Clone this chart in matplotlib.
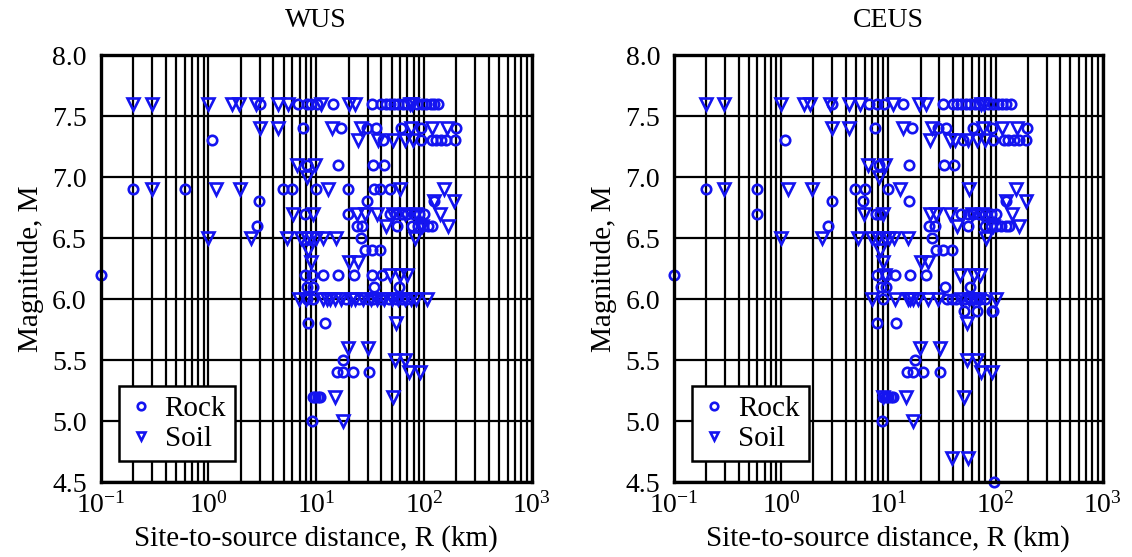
import matplotlib
matplotlib.use("Agg")
import matplotlib.pyplot as plt
from matplotlib.ticker import LogLocator, FixedLocator, FuncFormatter
import numpy as np

plt.rcParams['font.family'] = ['Liberation Serif', 'DejaVu Serif']

# distances (km) grouped by magnitude
wus_rock = {
    7.6: [3.0, 6.8, 8.2, 9.0, 10.2, 14.2, 32.7, 40, 44, 48, 53, 58, 64, 70, 86, 95, 105, 115, 125, 135],
    7.4: [7.6, 17.0, 29.9, 35.9, 60.8, 93.3, 198],
    7.3: [1.08, 42, 93, 120, 130, 145, 160, 194],
    7.1: [8.2, 15.8, 33.9, 42.8],
    6.9: [0.2, 0.6, 4.9, 6.0, 10.0, 19.9, 34.4, 39, 48.4],
    6.8: [2.95, 29.5, 124],
    6.7: [7.9, 19.9, 48, 55, 62, 70, 80, 90, 100],
    6.6: [2.8, 23.8, 26.4, 56.6, 78, 88, 98, 108, 120],
    6.5: [25.9],
    6.4: [28.4, 32.7, 39.1],
    6.2: [0.1, 7.8, 9.1, 11.6, 15.8, 22.4, 32.7, 40.5],
    6.1: [8.2, 9.4, 34.4, 58.6],
    6.0: [8.2, 9.4, 19, 25, 30, 34, 40, 47, 55, 62, 70],
    5.8: [8.3, 12],
    5.5: [17.9],
    5.4: [15.5, 17.6, 22.1, 30.9],
    5.2: [9.3, 9.8, 10.3, 10.8],
    5.0: [9.1],
}
wus_soil = {
    7.6: [0.2, 0.3, 1.0, 1.64, 1.9, 2.75, 4.4, 5.5, 11, 20.3, 22.9, 74, 78],
    7.4: [3.0, 4.4, 13.9, 25.9, 75.3, 118, 163],
    7.3: [24.6, 37.7, 52, 66.7, 79.4],
    7.1: [6.6, 9.8],
    7.0: [8.2],
    6.9: [0.3, 1.17, 1.96, 12.9, 60, 153],
    6.8: [124, 191],
    6.7: [6.05, 9.3, 23.8, 28.4, 36.4, 52, 66, 85, 141],
    6.6: [44.5, 95, 168],
    6.5: [1.0, 2.47, 5.3, 7.3, 8.2, 9.0, 10, 11.5, 15.3, 82.6],
    6.4: [8.3],
    6.3: [8.9, 20.3, 24.6],
    6.2: [48.4, 60, 69.2],
    6.0: [6.9, 8.0, 11.5, 12.5, 13.5, 15, 17, 21, 23, 27, 32, 37, 43, 50, 58, 66, 75, 85, 107],
    5.8: [55],
    5.6: [19.9, 30],
    5.5: [53.8, 66.7],
    5.4: [73.1, 91.8],
    5.2: [14.9, 51.3],
    5.0: [17.6],
}
ceus_rock = {
    7.6: [2.96, 6.6, 7.8, 9.1, 13.8, 32.1, 40, 44, 48, 53, 58, 64, 70, 86, 95, 105, 115, 125, 138],
    7.4: [7.5, 16.5, 29.2, 34.4, 61, 92, 195],
    7.3: [1.08, 50, 95.5, 120, 132, 148, 165, 192],
    7.1: [8.2, 15.6, 33, 41],
    6.9: [0.2, 0.59, 4.88, 6.05, 9.9],
    6.8: [2.96, 5.83, 15.6, 125],
    6.7: [0.59, 7.66, 8.35, 48, 55, 62, 70, 80, 90, 100],
    6.6: [2.72, 24, 27.3, 55.6, 80, 90, 100, 112, 125, 135],
    6.5: [25.3],
    6.4: [27.7, 32.6, 39.6],
    6.2: [0.1, 7.78, 9.5, 11.5, 15.9, 22.4],
    6.1: [8.6, 9.6, 33.6, 58.4],
    6.0: [8.85, 35, 39, 43, 52, 58, 65, 72, 80],
    5.9: [50.7, 67.4, 91.8, 95],
    5.8: [7.9, 11.9],
    5.5: [17.7],
    5.4: [14.8, 17.1, 21.2, 30.3],
    5.2: [9.0, 9.5, 10, 10.5, 11],
    5.0: [8.8],
    4.5: [96.6],
}
ceus_soil = {
    7.6: [0.198, 0.294, 0.99, 1.63, 1.86, 2.85, 4.29, 5.43, 11, 19.4, 22.4, 74, 78],
    7.4: [2.96, 4.29, 13.8, 25.3, 75.8, 116, 159],
    7.3: [24.4, 37.6, 41.7, 55.6, 66.7, 79.5],
    7.1: [6.5, 9.3],
    7.0: [8.2],
    6.9: [0.294, 1.16, 1.95, 12.8, 56.9, 155],
    6.8: [125, 192],
    6.7: [5.9, 9.0, 24.4, 28, 37.3, 60, 75, 141],
    6.6: [43.4, 95, 166],
    6.5: [0.99, 2.42, 5.17, 7.08, 8.05, 9.3, 10.2, 11.2, 15.4, 81],
    6.4: [8.4],
    6.3: [8.85, 20.3, 23.6],
    6.2: [9.3, 46.5, 62.5, 71.6],
    6.0: [6.98, 11.5, 15.2, 16, 17.1, 19, 23.6, 29.2, 48, 56, 62, 70, 102],
    5.8: [54.5],
    5.6: [19.7, 30.3],
    5.5: [53.7, 66.7],
    5.4: [74, 92],
    5.2: [9.0, 14.6, 50.7],
    5.0: [17.1],
    4.7: [39, 55],
}

panels = [("WUS", wus_rock, wus_soil), ("CEUS", ceus_rock, ceus_soil)]
positions = [[0.0890, 0.1346, 0.3807, 0.7666], [0.5954, 0.1346, 0.3787, 0.7666]]
blue = "#1414f0"


def flatten(d):
    r, m = [], []
    for mag, dists in d.items():
        r += dists
        m += [mag] * len(dists)
    return np.array(r), np.array(m)


def sci(x, pos):
    return r"$\mathregular{10^{%d}}$" % int(round(np.log10(x)))


fig = plt.figure(figsize=(11.32, 5.57), dpi=100)

for (title, rock, soil), pos in zip(panels, positions):
    ax = fig.add_axes(pos)
    ax.set_xscale("log")
    ax.set_xlim(0.1, 1000)
    ax.set_ylim(4.5, 8.0)

    # full log grid, every minor decade line drawn as heavy as the majors
    ax.xaxis.set_major_locator(LogLocator(base=10, numticks=10))
    ax.xaxis.set_minor_locator(LogLocator(base=10, subs=np.arange(2, 10), numticks=20))
    ax.xaxis.set_major_formatter(FuncFormatter(sci))
    ax.yaxis.set_major_locator(FixedLocator(np.arange(4.5, 8.01, 0.5)))
    ax.yaxis.set_major_formatter(FuncFormatter(lambda v, p: "%.1f" % v))
    ax.grid(True, which="both", axis="x", color="black", lw=1.6)
    ax.grid(True, which="major", axis="y", color="black", lw=1.6)
    ax.tick_params(which="both", length=0, labelsize=20)
    ax.tick_params(axis="y", pad=10)
    ax.tick_params(axis="x", pad=7)
    for s in ax.spines.values():
        s.set_linewidth(2.4)
    ax.set_axisbelow(True)

    rr, rm = flatten(rock)
    sr, sm = flatten(soil)
    ax.plot(rr, rm, linestyle="none", marker="o", ms=6.8, mfc="none", mec=blue, mew=1.9,
            label="Rock", clip_on=False)
    ax.plot(sr, sm, linestyle="none", marker="v", ms=8, mfc="none", mec=blue, mew=1.9,
            label="Soil", clip_on=False)

    ax.set_title(title, fontsize=20, pad=20)
    ax.set_xlabel("Site-to-source distance, R (km)", fontsize=21, labelpad=5)
    ax.set_ylabel("Magnitude, M", fontsize=21, labelpad=6)

    leg = ax.legend(loc="lower left", bbox_to_anchor=(0.042, 0.049), borderaxespad=0,
                    fontsize=21, fancybox=False, framealpha=1, edgecolor="black",
                    handlelength=0.9, handletextpad=0.35, labelspacing=0.12,
                    borderpad=0.32, markerscale=0.8)
    leg.get_frame().set_linewidth(1.8)

fig.savefig("out.png", dpi=100)
